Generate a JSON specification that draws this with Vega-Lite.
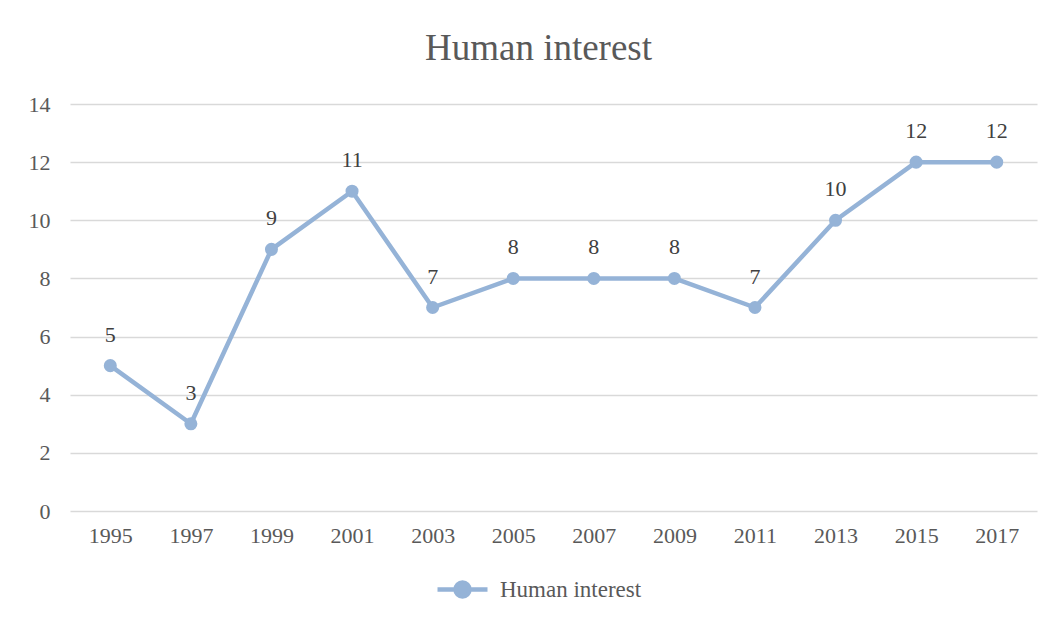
{
  "$schema": "https://vega.github.io/schema/vega-lite/v6.json",
  "autosize": "none",
  "width": 967,
  "height": 407,
  "padding": {"left": 70, "top": 104, "right": 16, "bottom": 108},
  "background": "white",
  "title": {
    "text": "Human interest",
    "font": "Liberation Serif",
    "fontSize": 37,
    "fontWeight": "normal",
    "color": "#595959",
    "anchor": "middle",
    "dx": -15,
    "offset": 25
  },
  "data": {
    "values": [
      {"year": "1995", "value": 5},
      {"year": "1997", "value": 3},
      {"year": "1999", "value": 9},
      {"year": "2001", "value": 11},
      {"year": "2003", "value": 7},
      {"year": "2005", "value": 8},
      {"year": "2007", "value": 8},
      {"year": "2009", "value": 8},
      {"year": "2011", "value": 7},
      {"year": "2013", "value": 10},
      {"year": "2015", "value": 12},
      {"year": "2017", "value": 12}
    ]
  },
  "encoding": {
    "x": {
      "field": "year", "type": "ordinal", "title": null,
      "axis": {"labelAngle": 0, "ticks": false, "domain": false, "grid": false,
               "labelFont": "Liberation Serif", "labelFontSize": 22, "labelColor": "#595959",
               "labelPadding": 14}
    },
    "y": {
      "field": "value", "type": "quantitative", "title": null,
      "scale": {"domain": [0, 14]},
      "axis": {"values": [0, 2, 4, 6, 8, 10, 12, 14], "ticks": false, "domain": false,
               "gridColor": "#d9d9d9", "gridWidth": 1.3,
               "labelFont": "Liberation Serif", "labelFontSize": 22, "labelColor": "#595959",
               "labelPadding": 20}
    }
  },
  "layer": [
    {
      "mark": {"type": "line", "strokeWidth": 4.5, "strokeJoin": "round", "strokeCap": "round"},
      "encoding": {
        "color": {
          "datum": "Human interest", "type": "nominal",
          "scale": {"range": ["#95B3D7"]},
          "legend": {
            "title": null, "orient": "none", "legendX": 365, "legendY": 458,
            "symbolType": "M-1,0L-0.28,0M0.28,0L1,0M-0.28,0A0.28,0.28 0 1,1 0.28,0A0.28,0.28 0 1,1 -0.28,0Z",
            "symbolSize": 2500, "symbolStrokeWidth": 4.5, "symbolFillColor": "#95B3D7",
            "symbolStrokeColor": "#95B3D7",
            "labelFont": "Liberation Serif", "labelFontSize": 23, "labelColor": "#595959",
            "labelOffset": 10
          }
        }
      }
    },
    {
      "mark": {"type": "point", "filled": true, "size": 170, "opacity": 1, "color": "#95B3D7"}
    },
    {
      "mark": {"type": "text", "dy": -31, "font": "Liberation Serif", "fontSize": 22, "color": "#404040"},
      "encoding": {"text": {"field": "value", "type": "quantitative"}}
    }
  ],
  "config": {"view": {"stroke": null}}
}
